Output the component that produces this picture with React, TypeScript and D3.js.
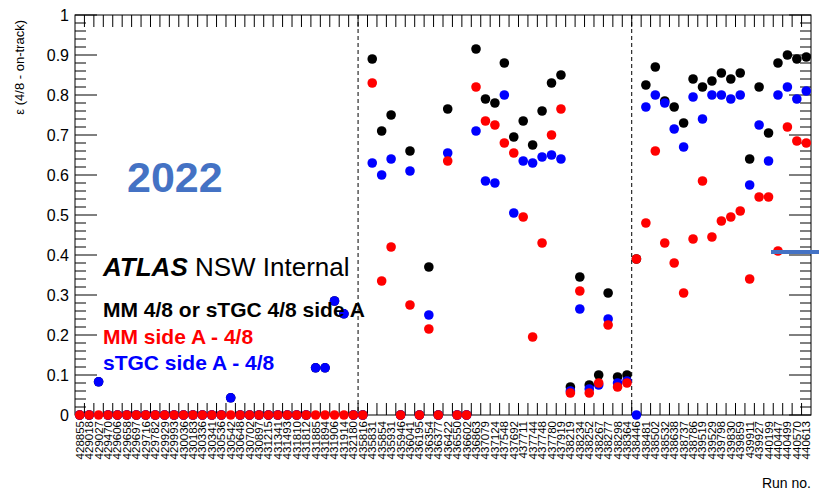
import { useEffect, useRef } from "react";
import * as d3 from "d3";

const runs = [
  "428855", "429018", "429027", "429470", "429606", "429658", "429697", "429716", "429782", "429929",
  "429993", "430036", "430183", "430336", "430341", "430536", "430542", "430648", "430702", "430897",
  "431215", "431341", "431493", "431810", "431812", "431885", "431894", "431906", "431914", "432180",
  "435816", "435831", "435854", "435931", "435946", "436041", "436195", "436354", "436377", "436422",
  "436550", "436602", "436863", "437079", "437124", "437548", "437692", "437711", "437744", "437748",
  "437780", "437919", "438219", "438234", "438252", "438267", "438277", "438298", "438364", "438446",
  "438481", "438502", "438532", "438638", "438737", "438786", "439519", "439529", "439798", "439830",
  "439859", "439911", "439927", "440199", "440447", "440499", "440570", "440613",
];

// MM 4/8 or sTGC 4/8 side A
const effOr = [
  0, 0, 0.083, 0, 0, 0, 0, 0, 0, 0,
  0, 0, 0, 0, 0, 0, 0.043, 0, 0, 0,
  0, 0, 0, 0, 0, 0.118, 0.118, 0.285, 0.253, 0,
  0, 0.89, 0.71, 0.75, 0, 0.66, 0, 0.37, 0, 0.765,
  0, 0, 0.915, 0.79, 0.78, 0.88, 0.695, 0.735, 0.675, 0.76,
  0.83, 0.85, 0.07, 0.345, 0.075, 0.1, 0.305, 0.095, 0.1, 0.39,
  0.825, 0.87, 0.785, 0.77, 0.73, 0.84, 0.82, 0.835, 0.855, 0.84,
  0.855, 0.64, 0.82, 0.705, 0.88, 0.9, 0.89, 0.895,
];

// MM side A - 4/8
const effMM = [
  0, 0, 0, 0, 0, 0, 0, 0, 0, 0,
  0, 0, 0, 0, 0, 0, 0, 0, 0, 0,
  0, 0, 0, 0, 0, 0, 0, 0, 0, 0,
  0, 0.83, 0.335, 0.42, 0, 0.275, 0, 0.215, 0, 0.635,
  0, 0, 0.82, 0.735, 0.725, 0.68, 0.655, 0.495, 0.195, 0.43,
  0.7, 0.765, 0.055, 0.31, 0.055, 0.08, 0.225, 0.07, 0.08, 0.39,
  0.48, 0.66, 0.43, 0.38, 0.305, 0.44, 0.585, 0.445, 0.485, 0.495,
  0.51, 0.34, 0.545, 0.545, 0.41, 0.72, 0.685, 0.68,
];

// sTGC side A - 4/8
const effSTGC = [
  0, 0, 0.083, 0, 0, 0, 0, 0, 0, 0,
  0, 0, 0, 0, 0, 0, 0.043, 0, 0, 0,
  0, 0, 0, 0, 0, 0.118, 0.118, 0.285, 0.253, 0,
  0, 0.63, 0.6, 0.64, 0, 0.61, 0, 0.25, 0, 0.655,
  0, 0, 0.71, 0.585, 0.58, 0.8, 0.505, 0.635, 0.63, 0.645,
  0.65, 0.64, 0.06, 0.265, 0.065, 0.075, 0.24, 0.08, 0.085, 0,
  0.77, 0.8, 0.78, 0.715, 0.67, 0.795, 0.74, 0.8, 0.8, 0.79,
  0.8, 0.575, 0.725, 0.635, 0.8, 0.82, 0.79, 0.81,
];

const dividerAfter = ["432180", "438364"];

const legendLabels = ["MM 4/8 or sTGC 4/8 side A", "MM side A - 4/8", "sTGC side A - 4/8"];
const legendColors = ["#000000", "#ff0000", "#0000ff"];

const FONT = "'Liberation Sans', Arial, Helvetica, sans-serif";

export default function App() {
  const svgRef = useRef<SVGSVGElement | null>(null);

  useEffect(() => {
    if (!svgRef.current) return;
    const width = 819;
    const height = 491;
    const left = 75, right = 811, top = 15, bottom = 415;

    const svg = d3.select(svgRef.current);
    svg.selectAll("*").remove();
    svg.attr("width", width).attr("height", height);
    svg.append("rect").attr("width", width).attr("height", height).attr("fill", "#fff");

    const x = d3.scaleBand<string>().domain(runs).range([left, right]).padding(0);
    const y = d3.scaleLinear().domain([0, 1]).range([bottom, top]);
    const cx = (r: string) => x(r)! + x.bandwidth() / 2;

    // frame
    svg.append("rect")
      .attr("x", left).attr("y", top)
      .attr("width", right - left).attr("height", bottom - top)
      .attr("fill", "none").attr("stroke", "#000").attr("stroke-width", 1);

    // y ticks, left and right, pointing in
    const major = d3.range(0, 1.0001, 0.1);
    const minor = d3.range(0, 1.0001, 0.02);
    const yt = svg.append("g").attr("stroke", "#000").attr("stroke-width", 1);
    minor.forEach(v => {
      const isMajor = major.some(m => Math.abs(m - v) < 1e-6);
      const len = isMajor ? 22 : 11;
      yt.append("line").attr("x1", left).attr("x2", left + len).attr("y1", y(v)).attr("y2", y(v));
      yt.append("line").attr("x1", right).attr("x2", right - len).attr("y1", y(v)).attr("y2", y(v));
    });

    svg.append("g")
      .selectAll("text")
      .data(major)
      .enter()
      .append("text")
      .attr("x", left - 6)
      .attr("y", d => y(d) + 6)
      .attr("text-anchor", "end")
      .attr("font-family", FONT)
      .attr("font-size", 16)
      .text(d => d3.format("~g")(+d.toFixed(1)));

    // x ticks on bin edges
    const edges = runs.map(r => x(r)!).slice(1);
    const xt = svg.append("g").attr("stroke", "#000").attr("stroke-width", 1);
    edges.forEach(e => {
      xt.append("line").attr("x1", e).attr("x2", e).attr("y1", bottom).attr("y2", bottom - 12);
      xt.append("line").attr("x1", e).attr("x2", e).attr("y1", top).attr("y2", top + 12);
    });

    svg.append("g")
      .selectAll("text")
      .data(runs)
      .enter()
      .append("text")
      .attr("transform", d => `translate(${cx(d) + 4},${bottom + 6}) rotate(-90)`)
      .attr("text-anchor", "end")
      .attr("font-family", FONT)
      .attr("font-size", 11.5)
      .text(d => d);

    // dashed separators
    dividerAfter.forEach(r => {
      const xe = x(r)! + x.bandwidth();
      svg.append("line")
        .attr("x1", xe).attr("x2", xe).attr("y1", top).attr("y2", bottom)
        .attr("stroke", "#000").attr("stroke-width", 1).attr("stroke-dasharray", "4,3");
    });

    // axis titles
    svg.append("text")
      .attr("transform", `translate(24,${top + 5}) rotate(-90)`)
      .attr("text-anchor", "end")
      .attr("font-family", FONT)
      .attr("font-size", 13)
      .text("\u03b5 (4/8 - on-track)");

    svg.append("text")
      .attr("x", right).attr("y", 488)
      .attr("text-anchor", "end")
      .attr("font-family", FONT)
      .attr("font-size", 14)
      .text("Run no.");

    // black, blue, then red on top
    const series: [number[], string][] = [
      [effOr, "#000000"],
      [effSTGC, "#0000ff"],
      [effMM, "#ff0000"],
    ];
    series.forEach(([vals, color]) => {
      svg.append("g")
        .selectAll("circle")
        .data(runs)
        .enter()
        .append("circle")
        .attr("cx", d => cx(d))
        .attr("cy", (_d, i) => y(vals[i]))
        .attr("r", 4.8)
        .attr("fill", color);
    });

    svg.append("text")
      .attr("x", 127).attr("y", 192)
      .attr("font-family", FONT)
      .attr("font-weight", 700)
      .attr("font-size", 43)
      .attr("fill", "#4472c4")
      .text("2022");

    const atlas = svg.append("text")
      .attr("x", 103).attr("y", 276)
      .attr("font-family", FONT)
      .attr("font-size", 26);
    atlas.append("tspan").attr("font-weight", 700).attr("font-style", "italic").text("ATLAS");
    atlas.append("tspan").text(" NSW Internal");

    legendLabels.forEach((lab, i) => {
      svg.append("text")
        .attr("x", 103).attr("y", 317 + i * 26.5)
        .attr("font-family", FONT)
        .attr("font-weight", 700)
        .attr("font-size", 21)
        .attr("fill", legendColors[i])
        .text(lab);
    });

    svg.append("line")
      .attr("x1", 771).attr("x2", 819).attr("y1", 252).attr("y2", 252)
      .attr("stroke", "#4472c4").attr("stroke-width", 4);
  }, []);

  return <svg ref={svgRef} style={{ position: "absolute", left: 0, top: 0 }} />;
}
